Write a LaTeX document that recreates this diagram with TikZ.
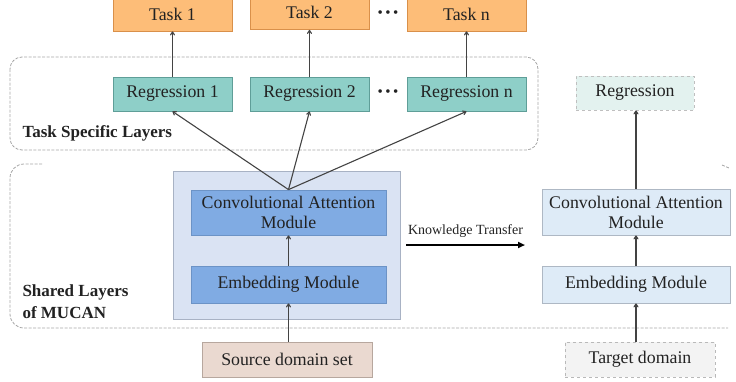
\documentclass[tikz,border=0pt]{standalone}
\usepackage{fontspec}
\setmainfont{Liberation Serif}
\usetikzlibrary{arrows.meta,calc}
\definecolor{taskfill}{HTML}{FDBD78}
\definecolor{taskdraw}{HTML}{D9904A}
\definecolor{regfill}{HTML}{8ECFC8}
\definecolor{regdraw}{HTML}{5F9E98}
\definecolor{tregfill}{HTML}{E3F2EF}
\definecolor{bigfill}{HTML}{DAE3F3}
\definecolor{bigdraw}{HTML}{A8B2C4}
\definecolor{modfill}{HTML}{80ABE3}
\definecolor{moddraw}{HTML}{6C93C6}
\definecolor{tmodfill}{HTML}{DEEBF7}
\definecolor{tmoddraw}{HTML}{AEB8C4}
\definecolor{srcfill}{HTML}{EAD9D0}
\definecolor{srcdraw}{HTML}{B7A79E}
\definecolor{tgtfill}{HTML}{F3F3F3}
\definecolor{ink}{HTML}{222222}
\tikzset{
  x=1pt,y=-1pt,
  every node/.style={text=ink,font=\fontsize{17.8}{20}\selectfont},
  boxnode/.style={draw,line width=0.8pt,inner sep=0pt,align=center},
  arr/.style={draw=ink!85,line width=1.1pt,-{To[length=4pt,width=5pt]}},
  region/.style={draw=gray!70,line width=0.8pt,dash pattern=on 3pt off 1.5pt},
  lbl/.style={anchor=west,font=\bfseries\fontsize{17}{22}\selectfont},
  dots/.style={font=\fontsize{15}{15}\selectfont},
}
\begin{document}
\begin{tikzpicture}
\useasboundingbox (0,0) rectangle (736,381);
% regions
\draw[region,rounded corners=12] (10,57) rectangle (538,150);
\draw[region,rounded corners=14] (42,164) -- (10,164) -- (10,328) -- (728,328);
\draw[region] (722,165) -- (729,168);
% tasks
\node[boxnode,fill=taskfill,draw=taskdraw,minimum width=119pt,minimum height=34pt] (t1) at (172.5,14) {Task 1};
\node[boxnode,fill=taskfill,draw=taskdraw,minimum width=119pt,minimum height=34pt] (t2) at (309.5,12.5) {Task 2};
\node[boxnode,fill=taskfill,draw=taskdraw,minimum width=119pt,minimum height=34pt] (tn) at (466.5,14) {Task n};
\node[dots] (d1) at (388,14) {\textbullet\,\textbullet\,\textbullet};
% regressions
\node[boxnode,fill=regfill,draw=regdraw,minimum width=119pt,minimum height=34pt] (r1) at (172.5,94) {Regression 1};
\node[boxnode,fill=regfill,draw=regdraw,minimum width=119pt,minimum height=34pt] (r2) at (309.5,94) {Regression 2};
\node[boxnode,fill=regfill,draw=regdraw,minimum width=119pt,minimum height=34pt] (rn) at (466.5,94) {Regression n};
\node[dots] (d2) at (388,93.5) {\textbullet\,\textbullet\,\textbullet};
\node[boxnode,fill=tregfill,draw=gray!50,dashed,minimum width=118pt,minimum height=34pt] (tr) at (635,93) {Regression};
% labels
\node[lbl] (lts) at (19,133) {Task Specific Layers};
\node[lbl,align=left] (lsh) at (19,301.5) {Shared Layers\\of MUCAN};
% source side
\node[boxnode,fill=bigfill,draw=bigdraw,minimum width=227pt,minimum height=148pt] (big) at (286.5,245) {};
\node[boxnode,fill=modfill,draw=moddraw,minimum width=195pt,minimum height=45pt] (conv) at (288.5,212.5) {Convolutional Attention\\Module};
\node[boxnode,fill=modfill,draw=moddraw,minimum width=195pt,minimum height=37pt] (emb) at (288.5,284.5) {Embedding Module};
\node[boxnode,fill=srcfill,draw=srcdraw,minimum width=170pt,minimum height=35pt] (src) at (287,359.5) {Source domain set};
% target side
\node[boxnode,fill=tmodfill,draw=tmoddraw,minimum width=188pt,minimum height=46pt] (tconv) at (636,212) {Convolutional Attention\\Module};
\node[boxnode,fill=tmodfill,draw=tmoddraw,minimum width=188pt,minimum height=37pt] (temb) at (636,284.5) {Embedding Module};
\node[boxnode,fill=tgtfill,draw=gray!55,dashed,minimum width=150pt,minimum height=35pt] (tgt) at (640,359.5) {Target domain};
% arrows
\draw[arr] (src.north -| emb.south) -- (emb.south);
\draw[arr] (emb.north) -- (conv.south);
\draw[arr] (conv.north) -- (r1.south);
\draw[arr] (conv.north) -- (r2.south);
\draw[arr] (conv.north) -- (rn.south);
\draw[arr] (r1.north) -- (t1.south);
\draw[arr] (r2.north) -- (t2.south);
\draw[arr] (rn.north) -- (tn.south);
\draw[arr] (tgt.north -| temb.south) -- (temb.south);
\draw[arr] (temb.north) -- (tconv.south);
\draw[arr] (tconv.north) -- (tconv.north |- tr.south);
% knowledge transfer
\coordinate (k1) at (406,245);
\coordinate (k2) at (525,245);
\draw[draw=black,line width=1.8pt,-{Triangle[length=7pt,width=6pt]}] (k1) -- (k2)
  node[midway,above=3pt,font=\fontsize{14}{16}\selectfont] (kt) {Knowledge Transfer};
\end{tikzpicture}
\end{document}
